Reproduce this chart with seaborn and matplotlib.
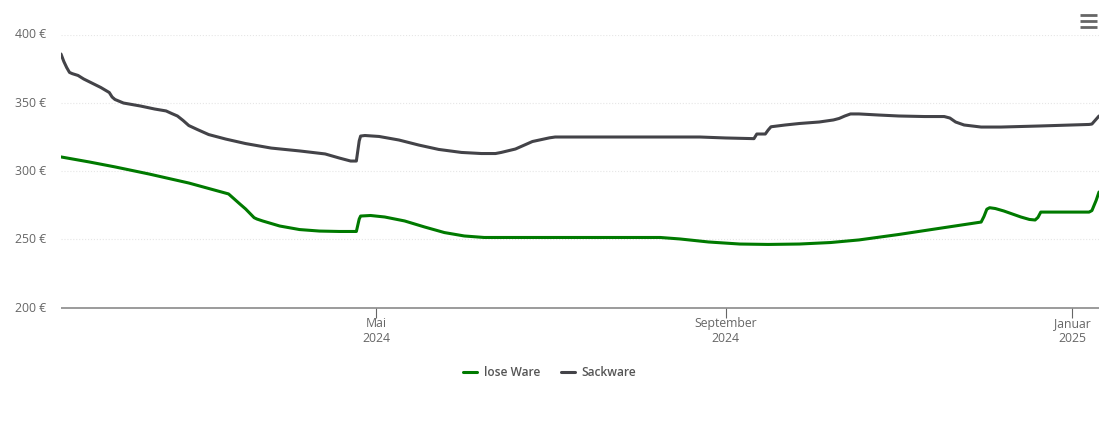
import matplotlib.pyplot as plt
from matplotlib.lines import Line2D
from matplotlib.transforms import ScaledTranslation
import seaborn as sns
import pandas as pd

# prices, euro per date
lose_dates = ['2024-01-11', '2024-01-21', '2024-01-30', '2024-02-11', '2024-02-25', '2024-03-10',
              '2024-03-12', '2024-03-14', '2024-03-16', '2024-03-19', '2024-03-20', '2024-03-22', '2024-03-28',
              '2024-04-04', '2024-04-11', '2024-04-18', '2024-04-24', '2024-04-25', '2024-04-25 12:00',
              '2024-04-29', '2024-05-04', '2024-05-11', '2024-05-18', '2024-05-25', '2024-06-01',
              '2024-06-08', '2024-06-14', '2024-08-09', '2024-08-16', '2024-08-26', '2024-09-06',
              '2024-09-16', '2024-09-27', '2024-10-08', '2024-10-18', '2024-11-01', '2024-11-15',
              '2024-11-30', '2024-12-01', '2024-12-02', '2024-12-03', '2024-12-05', '2024-12-08',
              '2024-12-14', '2024-12-17', '2024-12-19', '2024-12-20', '2024-12-21', '2025-01-07',
              '2025-01-08', '2025-01-09 12:00', '2025-01-10 12:00']
lose_prices = [310.3, 306.6, 303.0, 297.8, 291.2, 283.2,
               279.5, 275.8, 272.2, 265.8, 264.8, 263.4, 259.7,
               257.1, 256.0, 255.7, 255.7, 264.8, 267.0,
               267.4, 266.3, 263.4, 259.0, 254.9, 252.4,
               251.3, 251.3, 251.3, 250.2, 248.0, 246.5,
               246.2, 246.5, 247.6, 249.5, 253.5, 257.9,
               262.6, 266.7, 272.0, 273.1, 272.5, 270.7,
               266.3, 264.5, 264.1, 266.0, 269.9, 269.9,
               271.0, 278.5, 284.6]

sack_dates = ['2024-01-11', '2024-01-12', '2024-01-13', '2024-01-14', '2024-01-15', '2024-01-17',
              '2024-01-19', '2024-01-25', '2024-01-28', '2024-01-29', '2024-01-30', '2024-02-02',
              '2024-02-08', '2024-02-13', '2024-02-17', '2024-02-19', '2024-02-21', '2024-02-23', '2024-02-25', '2024-02-28',
              '2024-03-03', '2024-03-09', '2024-03-16', '2024-03-25', '2024-04-04', '2024-04-13',
              '2024-04-18', '2024-04-22', '2024-04-24', '2024-04-25', '2024-04-25 12:00', '2024-04-27',
              '2024-05-02', '2024-05-09', '2024-05-16', '2024-05-23', '2024-05-31',
              '2024-06-07', '2024-06-12', '2024-06-14', '2024-06-19', '2024-06-25', '2024-07-01', '2024-07-03',
              '2024-07-10', '2024-08-23', '2024-09-01', '2024-09-11', '2024-09-12', '2024-09-15',
              '2024-09-16', '2024-09-17', '2024-09-22', '2024-09-27', '2024-10-04', '2024-10-09', '2024-10-11',
              '2024-10-13', '2024-10-15', '2024-10-18', '2024-10-25', '2024-11-01', '2024-11-10',
              '2024-11-17', '2024-11-19', '2024-11-21', '2024-11-24', '2024-11-30', '2024-12-07',
              '2024-12-21', '2025-01-07', '2025-01-08', '2025-01-10 12:00']
sack_prices = [385.7, 380.2, 375.8, 372.2, 371.3, 370.0,
               367.4, 361.2, 357.5, 354.2, 352.4, 349.8,
               347.6, 345.4, 344.0, 342.1, 340.3, 337.0, 333.3, 330.4,
               326.7, 323.4, 320.1, 316.8, 314.7, 312.5,
               309.5, 307.3, 307.3, 322.0, 325.6, 326.0,
               325.3, 322.7, 319.0, 315.8, 313.6,
               312.8, 312.8, 313.6, 316.1, 321.6, 324.3, 324.9,
               324.9, 324.9, 324.2, 323.7, 327.1, 327.1,
               330.0, 332.4, 333.7, 334.8, 335.9, 337.4, 338.5,
               340.3, 341.8, 341.8, 341.0, 340.3, 339.9,
               339.9, 338.8, 335.9, 333.7, 332.2, 332.2,
               333.0, 334.1, 334.4, 340.3]

tick_dates = ['2024-05-01', '2024-09-01', '2025-01-01']
tick_labels = ['Mai\n2024', 'September\n2024', 'Januar\n2025']
y_ticks = [200, 250, 300, 350, 400]

df = pd.concat([
    pd.DataFrame({'date': pd.to_datetime(lose_dates, format='ISO8601'), 'price': lose_prices, 'sorte': 'lose Ware'}),
    pd.DataFrame({'date': pd.to_datetime(sack_dates, format='ISO8601'), 'price': sack_prices, 'sorte': 'Sackware'}),
])

sns.set_style('white')
plt.rcParams['font.family'] = ['Open Sans', 'DejaVu Sans']

fig = plt.figure(figsize=(11.1, 4.22), dpi=100)
ax = fig.add_axes([61 / 1110, 1 - 307.5 / 422, 1038 / 1110, 273 / 422])

sns.lineplot(data=df, x='date', y='price', hue='sorte', estimator=None, sort=True,
             palette={'lose Ware': '#007a00', 'Sackware': '#434348'},
             linewidth=2.2, ax=ax)

ax.set_xlim(pd.Timestamp('2024-01-11'), pd.Timestamp('2025-01-10 12:00'))
ax.set_ylim(200, 400)
ax.set_xlabel('')
ax.set_ylabel('')

ax.set_yticks(y_ticks)
ax.set_yticklabels([str(v) + ' €' for v in y_ticks])
ax.set_xticks(pd.to_datetime(tick_dates))
ax.set_xticklabels(tick_labels, linespacing=1.2)
ax.tick_params(axis='y', length=0, pad=10.5, labelsize=8.8, labelcolor='#666666')
ax.tick_params(axis='x', bottom=True, length=7.2, width=0.8, color='#666666', pad=-0.5,
               labelsize=8.8, labelcolor='#666666')
# y labels sit a pixel above their grid lines
nudge = ScaledTranslation(0, 1 / 100, fig.dpi_scale_trans)
for lab in ax.get_yticklabels():
    lab.set_transform(lab.get_transform() + nudge)

ax.grid(axis='y', color='#e6e6e6', linestyle=':', linewidth=0.8)
ax.set_axisbelow(True)
sns.despine(ax=ax, left=True)
ax.spines['bottom'].set_color('#808080')
ax.spines['bottom'].set_linewidth(1.1)
ax.spines['bottom'].set_capstyle('butt')

ax.legend(loc='center', bbox_to_anchor=(550 / 1110, 1 - 372.5 / 422), bbox_transform=fig.transFigure,
          ncol=2, frameon=False, handlelength=1.17, handletextpad=0.55, columnspacing=1.75,
          prop={'size': 8.6, 'weight': 'semibold'}, labelcolor='#555555')
for h in ax.get_legend().get_lines():
    h.set_linewidth(2.2)

# menu icon top right
for y_px in [15, 21, 26.5]:
    fig.add_artist(Line2D([1080 / 1110, 1096.5 / 1110], [1 - y_px / 422] * 2, color='#666666',
                          linewidth=2, solid_capstyle='butt'))

fig.savefig('out.png', dpi=100)
